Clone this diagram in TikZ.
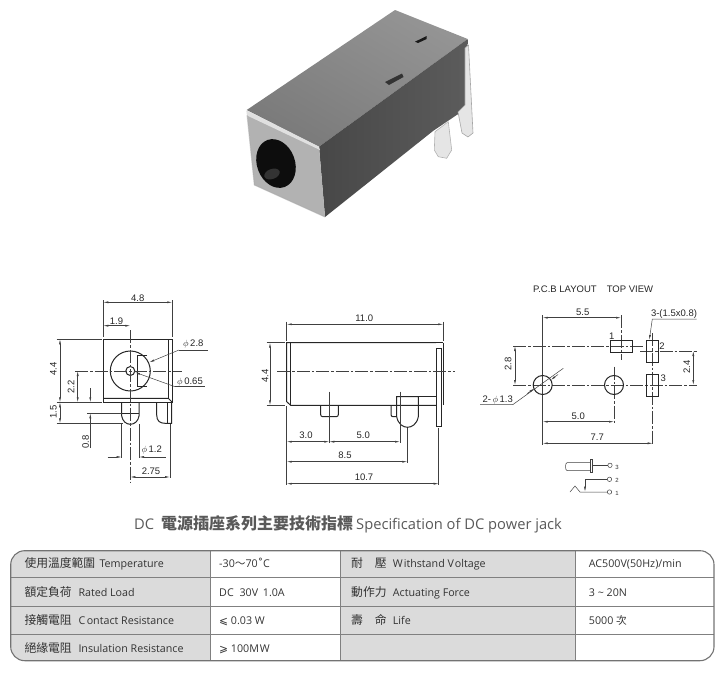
\documentclass[tikz,border=0pt]{standalone}
\usepackage{fontspec}
\setmainfont{Open Sans}
\newfontfamily\cjk{Noto Sans CJK TC}
\newfontfamily\dimfont{Liberation Sans}
\newfontfamily\symfont{DejaVu Sans}
\usetikzlibrary{arrows.meta}
\tikzset{
  outline/.style={black!85,line width=1pt},
  thinline/.style={black!75,line width=0.5pt},
  dimline/.style={thinline,{Latex[length=5pt,width=2pt]}-{Latex[length=5pt,width=2pt]}},
  arrowline/.style={thinline,-{Latex[length=5pt,width=2pt]}},
  axisline/.style={thinline,dash pattern=on 13pt off 2pt on 2.5pt off 2pt},
  dimlabel/.style={inner sep=0pt,text=black!85,font=\dimfont\fontsize{9.5}{10}\selectfont},
  pinlabel/.style={inner sep=0pt,text=black!80,font=\dimfont\fontsize{6}{7}\selectfont},
  celltext/.style={inner sep=0pt,anchor=base west,text=black!80,font=\fontsize{10.7}{12}\selectfont},
  cjktext/.style={inner sep=0pt,anchor=base west,text=black!80,font=\cjk\fontsize{11.8}{13}\selectfont}
}
\begin{document}
\begin{tikzpicture}[x=1pt,y=-1pt]
  \useasboundingbox (0,0) rectangle (724,675);
  \shade [top color=black!42,bottom color=black!52,shading angle=-30] (246.7,110) -- (395,10) -- (467.7,39) -- (319,146.7) -- cycle;
  \shade [left color=black!72,right color=black!64] (319,146.7) -- (467.7,39) -- (465,110) -- (456.7,115) -- (433,131) -- (325,217) -- cycle;
  \fill [black!30] (246.7,111) -- (319,146.7) -- (325,217) -- (254.3,185) -- cycle;
  \fill [black!12] (246.7,110.5) -- (319,146.7) -- (320,150) -- (247,115.5) -- cycle;
  \draw [black!35,opacity=0.5,line width=1pt,line join=round] (247,115) -- (254.3,185) -- (325,217);
  \fill [black!95,rotate around={20:(276,163.5)}] (276,163.5) ellipse [x radius=19,y radius=25];
  \fill [black!80,rotate around={20:(272,174)}] (272,174) ellipse [x radius=8,y radius=5];
  \filldraw [fill=black!10,draw=black!35,line width=0.6pt,line join=round] (465,48) -- (468.5,45) -- (473,133) -- (468,137) -- (462,133) -- (458,112) -- (465,105) -- cycle;
  \filldraw [fill=black!10,draw=black!30,line width=0.6pt,line join=round] (435,131.7) -- (448.3,121.7) -- (451.7,150) -- (446.7,158.3) -- (438.3,156.7) -- (434.3,150) -- cycle;
  \fill [black!90] (415,41.7) -- (426.7,36) -- (426.7,39) -- (418,43) -- cycle;
  \fill [black!80] (385,82) -- (402,73.5) -- (403.5,77) -- (389,85) -- cycle;

  \draw [outline] (103.3,339.3) rectangle (172.3,402.3);
  \draw [outline] (168.3,339.3) -- (168.3,398.3);
  \draw [outline] (103.3,398.3) -- (168.3,398.3) -- (172.3,402.3);
  \draw [outline] (130.3,371) circle (20);
  \draw [outline] (130.3,371) circle (4.5);
  \draw [outline] (147,355.7) -- (137.3,355.7) -- (137.3,386.7) -- (147,386.7);
  \draw [outline] (121.7,402.3) -- (121.7,416) .. controls (122.5,421) and (126,424.3) .. (130.3,424.3) .. controls (134.7,424.3) and (138.2,421) .. (139,416) -- (139,402.3);
  \draw [outline] (121.7,413.3) -- (139,413.3);
  \draw [outline] (156.7,402.3) -- (156.7,415) .. controls (156.7,421) and (160,423.3) .. (165,423.3) -- (171.7,423.3) -- (171.7,402.3);
  \draw [outline] (167.3,402.3) -- (167.3,423.3);
  \draw [axisline] (75,371) -- (181.7,371);
  \draw [axisline] (130.3,330) -- (130.3,481.7);
  \draw [dimline] (103.3,302.3) -- (172.3,302.3);
  \draw [thinline] (103.3,300) -- (103.3,337) (172.3,300) -- (172.3,337);
  \node [dimlabel] (lblwidth) at (137.7,298) {4.8};
  \draw [dimline] (103.3,325.7) -- (130.3,325.7);
  \node [dimlabel] (lblhalf) at (116.5,321) {1.9};
  \draw [dimline] (60,339.3) -- (60,402.3);
  \draw [dimline] (60,402.3) -- (60,423.3);
  \draw [thinline] (56.7,339.3) -- (101.7,339.3) (56.7,402.3) -- (101.7,402.3) (56.7,423.3) -- (123,423.3);
  \node [dimlabel,rotate=90] (lblheight) at (53.3,369) {4.4};
  \node [dimlabel,rotate=90] (lblpin) at (53.3,411.7) {1.5};
  \draw [dimline] (77.7,371) -- (77.7,402.3);
  \node [dimlabel,rotate=90] (lblaxis) at (71,386.7) {2.2};
  \draw [arrowline] (90.3,388.3) -- (90.3,402.3);
  \draw [arrowline] (90.3,448) -- (90.3,413.3);
  \draw [thinline] (87,413.3) -- (121.7,413.3);
  \node [dimlabel,rotate=90] (lbltip) at (85.7,441.7) {0.8};
  \draw [thinline] (121.7,424) -- (121.7,458.3) (139,424) -- (139,458.3);
  \draw [arrowline] (107.7,457) -- (121.7,457);
  \draw [arrowline] (165.7,457) -- (139,457);
  \node [dimlabel] (lblpindia) at (151.7,450.5) {$\phi$\,1.2};
  \draw [dimline] (130.3,477) -- (170,477);
  \draw [thinline] (170,424) -- (170,478.3);
  \node [dimlabel] (lblpinpos) at (151,471) {2.75};
  \draw [arrowline] (179,350) -- (149.3,362.3);
  \draw [thinline] (179,350) -- (208.3,350);
  \node [dimlabel] (lblbore) at (193.3,344.3) {$\phi$\,2.8};
  \draw [arrowline] (175,386.7) -- (135,372.3);
  \draw [thinline] (175,386.7) -- (205,386.7);
  \node [dimlabel] (lblcentre) at (190,381.7) {$\phi$\,0.65};

  \draw [outline] (436,342.7) -- (286.7,342.7) -- (286.7,401.7) -- (290.7,405.3) -- (436,405.3);
  \draw [outline] (290.7,342.7) -- (290.7,405.3);
  \draw [outline] (443.3,342.7) -- (443.3,405.3);
  \draw [outline] (436,342.7) -- (443.3,342.7);
  \draw [outline] (436,348.3) rectangle (441.3,426.7);
  \draw [outline,rounded corners=2pt] (320.7,405.3) -- (320.7,416.7) -- (338.3,416.7) -- (338.3,405.3);
  \draw [outline,rounded corners=2pt] (391,405.3) -- (391,416.7) -- (396.7,416.7);
  \draw [outline] (396.7,396.7) -- (396.7,416.7) .. controls (398,424) and (403,427.3) .. (407.5,427.3) .. controls (412,427.3) and (417,424) .. (418.3,416.7) -- (418.3,396.7) -- cycle;
  \draw [outline] (418.3,396.7) -- (436,396.7);
  \draw [axisline] (277.3,371) -- (455,371);
  \draw [dimline] (286.7,324.3) -- (443.3,324.3);
  \draw [thinline] (286.7,321.7) -- (286.7,341) (443.3,321.7) -- (443.3,341);
  \node [dimlabel] (lbllength) at (364.3,318.3) {11.0};
  \draw [dimline] (270,342.7) -- (270,405.3);
  \draw [thinline] (266.7,342.7) -- (285,342.7) (266.7,405.3) -- (285,405.3);
  \node [dimlabel,rotate=90] (lblsideh) at (265,376) {4.4};
  \draw [dimline] (286.7,441.7) -- (329.3,441.7);
  \draw [dimline] (329.3,441.7) -- (400,441.7);
  \draw [thinline] (329.3,391.7) -- (329.3,443.3) (400,391.7) -- (400,443.3);
  \node [dimlabel] (lblfirst) at (306,435.7) {3.0};
  \node [dimlabel] (lblpitch) at (363.3,435.7) {5.0};
  \draw [dimline] (286.7,461.7) -- (407.3,461.7);
  \draw [thinline] (407.3,428) -- (407.3,463);
  \node [dimlabel] (lblsecond) at (345,455.7) {8.5};
  \draw [dimline] (286.7,483.7) -- (438.7,483.7);
  \draw [thinline] (438.7,428) -- (438.7,485) (286.7,406) -- (286.7,485);
  \node [dimlabel] (lbloverall) at (364,477.7) {10.7};

  \node [dimlabel] (lblpcb) at (565,289.5) {P.C.B LAYOUT};
  \node [dimlabel] (lbltop) at (630,289.5) {TOP VIEW};
  \draw [axisline] (513.3,346) -- (643,346);
  \draw [axisline] (640,351) -- (696.7,351);
  \draw [axisline] (513.3,385) -- (696.7,385);
  \draw [thinline] (542.7,315) -- (542.7,445);
  \draw [axisline] (621,315) -- (621,360);
  \draw [axisline] (614,366.7) -- (614,423);
  \draw [axisline] (652.7,333) -- (652.7,445);
  \draw [outline] (610.3,340.3) rectangle (632,352);
  \draw [outline] (646.7,340.7) rectangle (658.3,362.3);
  \draw [outline] (646.7,374.3) rectangle (658.3,396.3);
  \draw [outline] (542.7,385) circle (9.5);
  \draw [outline] (614,385) circle (9.5);
  \node [dimlabel] (padone) at (611.7,336) {1};
  \node [dimlabel] (padtwo) at (662,345.7) {2};
  \node [dimlabel] (padthree) at (663.3,378.7) {3};
  \draw [dimline] (542.7,317.7) -- (621,317.7);
  \node [dimlabel] (lblspan) at (582.7,312.7) {5.5};
  \draw [dimline] (515,346) -- (515,385);
  \node [dimlabel,rotate=90] (lblrow) at (508,364) {2.8};
  \draw [dimline] (693.3,351) -- (693.3,385);
  \node [dimlabel,rotate=90] (lblpads) at (686.7,367.3) {2.4};
  \draw [dimline] (542.7,421.7) -- (614,421.7);
  \node [dimlabel] (lblholes) at (578.3,416.7) {5.0};
  \draw [dimline] (542.7,443.3) -- (652.7,443.3);
  \node [dimlabel] (lblfar) at (597.3,437.7) {7.7};
  \node [dimlabel] (lblslot) at (674,314) {3-(1.5x0.8)};
  \draw [arrowline] (696.7,319) -- (652.3,319) -- (649.3,340);
  \node [dimlabel] (lblhole) at (497.7,400.3) {2-\,$\phi$\,1.3};
  \draw [thinline] (480,404.7) -- (512.7,404.7) -- (563.3,368.3);
  \draw [arrowline] (527,393.7) -- (534.2,388.5);
  \draw [arrowline] (558,374.5) -- (550.8,380);

  \draw [thinline,rounded corners=3pt] (590,462.7) -- (570,462.7) .. controls (565,462.7) and (565,470.5) .. (570,470.5) -- (590,470.5);
  \draw [thinline] (590,459) rectangle (592.7,472.7);
  \draw [thinline] (592.7,465.3) -- (607.7,465.3);
  \draw [thinline] (610,465.3) circle (2.2);
  \node [pinlabel] (symthree) at (617,467.3) {3};
  \draw [thinline] (607.3,479.3) -- (585,479.3);
  \draw [arrowline] (585,479.3) -- (585,491.7);
  \draw [thinline] (609.5,479.3) circle (2.2);
  \node [pinlabel] (symtwo) at (617,480.3) {2};
  \draw [thinline] (570,492) -- (575,486) -- (580,492) -- (607.3,492);
  \draw [thinline] (609.5,492) circle (2.2);
  \node [pinlabel] (symone) at (617,493) {1};

  \node [inner sep=0pt,anchor=base west,text=black!65] (title) at (134,529) {\fontsize{14.7}{17}\selectfont DC\hspace{7pt}{\cjk\bfseries\fontsize{16}{17}\selectfont 電源插座系列主要技術指標}\hspace{3pt}Specification of DC power jack};

  \begin{scope}
    \clip [rounded corners=14pt] (10.7,550.7) rectangle (714,660.7);
    \fill [black!14] (10.7,550.7) rectangle (210.3,660.7);
    \fill [black!14] (340,550.7) rectangle (575.3,660.7);
  \end{scope}
  \draw [black!50,line width=0.8pt] (10.7,577.3) -- (714,577.3);
  \draw [black!50,line width=0.8pt] (10.7,606) -- (714,606);
  \draw [black!50,line width=0.8pt] (10.7,634) -- (714,634);
  \draw [black!50,line width=0.8pt] (210.3,550.7) -- (210.3,660.7);
  \draw [black!50,line width=0.8pt] (340,550.7) -- (340,660.7);
  \draw [black!50,line width=0.8pt] (575.3,550.7) -- (575.3,660.7);
  \draw [black!55,line width=1.1pt,rounded corners=14pt] (10.7,550.7) rectangle (714,660.7);

  \node [cjktext] (tempzh) at (24.3,567.5) {使用溫度範圍};
  \node [celltext] (tempen) at (99.3,567.5) {Temperature};
  \node [cjktext] (loadzh) at (24.3,596) {額定負荷};
  \node [celltext] (loaden) at (78.3,596) {Rated Load};
  \node [cjktext] (contactzh) at (24.3,624) {接觸電阻};
  \node [celltext] (contacten) at (78.3,624) {C\kern1.5pt ontact Resistance};
  \node [cjktext] (insulzh) at (24.3,652) {絕緣電阻};
  \node [celltext] (insulen) at (78.3,652) {Insulation Resistance};
  \node [celltext] (tempval) at (219,567.5) {-30{\cjk ～}70{\symfont ˚}C};
  \node [celltext] (loadval) at (219,596) {DC\hspace{3pt} 30V\hspace{2pt} 1.0A};
  \node [celltext] (contactval) at (219,624) {{\symfont ⩽} 0.03 W};
  \node [celltext] (insulval) at (219,652) {{\symfont ⩾} 100M\kern1pt W};
  \node [cjktext] (voltzh) at (351,567.5) {耐\hspace{12pt}壓};
  \node [celltext] (volten) at (392.7,567.5) {W\kern1pt ithstand V\kern1pt oltage};
  \node [cjktext] (forcezh) at (351,596) {動作力};
  \node [celltext] (forceen) at (392.7,596) {Actuating Force};
  \node [cjktext] (lifezh) at (351,624) {壽\hspace{12pt}命};
  \node [celltext] (lifeen) at (392.7,624) {Life};
  \node [celltext] (voltval) at (588.7,567.5) {AC500V(50Hz)/min};
  \node [celltext] (forceval) at (588.7,596) {3 \textasciitilde{} 20N};
  \node [celltext] (lifeval) at (588.7,624) {5000 {\cjk 次}};
\end{tikzpicture}
\end{document}
